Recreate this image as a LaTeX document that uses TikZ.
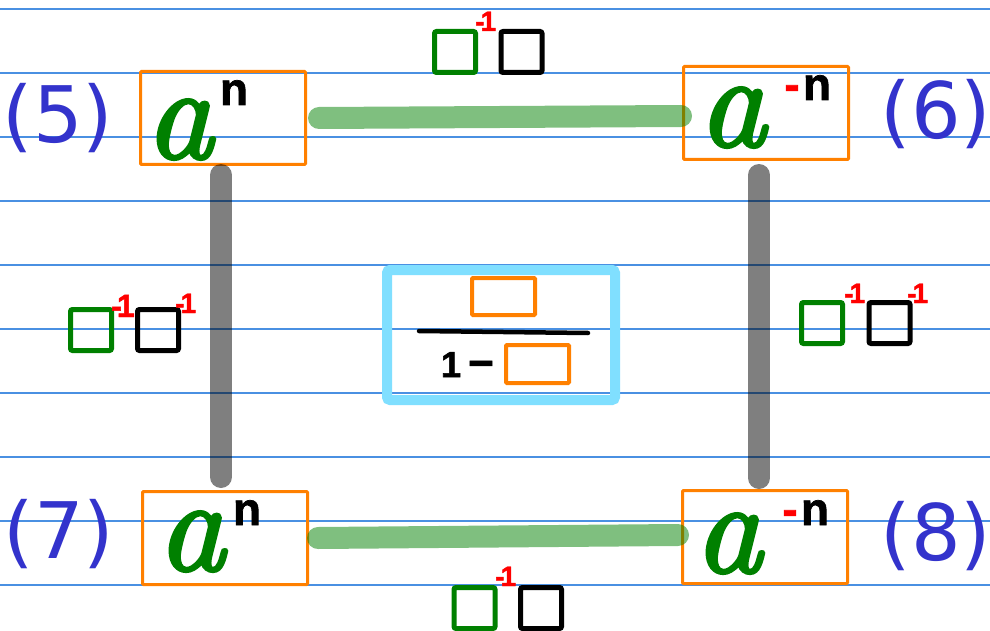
\documentclass[tikz,border=0pt]{standalone}
\usepackage{fontspec}
\newfontfamily\labfont{DejaVu Sans}
\newfontfamily\handfont{Liberation Sans Bold}[FakeBold=1.5]
\newfontfamily\afont{lmroman10-italic}[Extension=.otf, FakeBold=2.5]
\usetikzlibrary{calc}
\definecolor{orng}{HTML}{FF8000}
\definecolor{grn}{HTML}{008000}
\definecolor{lblc}{HTML}{3333CC}
\definecolor{cyanc}{HTML}{80DFFF}
\definecolor{redc}{HTML}{FF0000}
\definecolor{rulec}{HTML}{4A90E2}
\tikzset{
  rulel/.style={draw=rulec, line width=1.3pt},
  obox/.style={draw=orng, line width=3pt, minimum width=165pt, minimum height=93pt, inner sep=0pt, rounded corners=1pt},
  sqg/.style={draw=grn, line width=5pt, minimum size=41pt, inner sep=0pt, rounded corners=2pt},
  sqk/.style={draw=black, line width=5pt, minimum size=41pt, inner sep=0pt, rounded corners=2pt},
  gbar/.style={draw=grn, opacity=0.5, line width=22pt, line cap=round},
  kbar/.style={draw=black, opacity=0.5, line width=22pt, line cap=round},
  alet/.style={font=\afont\fontsize{132}{132}\selectfont, text=grn, inner sep=0pt, anchor=base},
  nlet/.style={font=\handfont\fontsize{46}{46}\selectfont, inner sep=0pt, anchor=base},
  inv/.style={font=\handfont\fontsize{28}{28}\selectfont, text=redc, inner sep=0pt, anchor=base west},
  lbl/.style={font=\labfont\fontsize{78}{78}\selectfont, text=lblc, inner sep=0pt, anchor=base},
}
\begin{document}
\begin{tikzpicture}[x=1pt,y=-1pt]
\useasboundingbox (0,0) rectangle (990,631);
\fill[white] (0,0) rectangle (990,631);
\foreach \yy in {9,73,137,201,265,329,393,457,521,585}
  \draw[rulel] (0,\yy) -- (990,\yy);

% corner boxes
\node[obox] (b5) at (223,118) {};
\node[obox] (b6) at (766,113) {};
\node[obox] (b7) at (225,538) {};
\node[obox] (b8) at (765,537) {};

% texts in boxes
\node[alet] (a5) at (179,158) {a};
\node[nlet] (n5) at (234,105) {n};
\node[alet] (a6) at (732,146) {a};
\node[nlet, text=redc] (m6) at (792,100) {-};
\node[nlet] (n6) at (817,100) {n};
\node[alet] (a7) at (191,570) {a};
\node[nlet] (n7) at (247,525) {n};
\node[alet] (a8) at (728,572) {a};
\node[nlet, text=redc] (m8) at (790,525) {-};
\node[nlet] (n8) at (815,525) {n};

% labels
\node[lbl] (l5) at (58,143) {(5)};
\node[lbl] (l6) at (936,139) {(6)};
\node[lbl] (l7) at (59,558) {(7)};
\node[lbl] (l8) at (936,560) {(8)};

% connectors
\draw[gbar] ($(b5.east)+(12,0)$) -- ($(b6.west)+(-1,3)$);
\draw[gbar] ($(b7.east)+(9,0)$) -- ($(b8.west)+(-3,-2)$);
\draw[kbar] ($(b5.south)+(-2,9)$) -- ($(b7.north)+(-4,-13)$);
\draw[kbar] ($(b6.south)+(-7,14)$) -- ($(b8.north)+(-6,-11)$);

% square pairs
\node[sqg] (tg) at (455,52) {};
\node[sqk] (tk) at (521.5,52) {};
\node[inv] (ti) at (475,31) {-\kern-4pt 1};

\node[sqg] (lg) at (91,330) {};
\node[sqk] (lk) at (158,330) {};
\node[inv, font=\handfont\fontsize{32}{32}\selectfont] (li1) at (111,317) {-\kern-5pt 1};
\node[inv] (li2) at (175,313) {-\kern-4pt 1};

\node[sqg] (rg) at (822,323) {};
\node[sqk] (rk) at (889.5,323) {};
\node[inv] (ri1) at (844,303) {-\kern-4pt 1};
\node[inv] (ri2) at (907,303) {-\kern-4pt 1};

\node[sqg] (bg) at (474.5,608) {};
\node[sqk] (bk) at (541,608) {};
\node[inv] (bi) at (495,586) {-\kern-4pt 1};

% centre formula
\node[draw=cyanc, line width=10pt, minimum width=228pt, minimum height=130pt, inner sep=0pt, rounded corners=3pt] (cb) at (501,335) {};
\node[draw=orng, line width=4pt, minimum width=63pt, minimum height=37pt, inner sep=0pt, rounded corners=1pt] (num) at (503.5,296.5) {};
\node[draw=orng, line width=4pt, minimum width=63pt, minimum height=38pt, inner sep=0pt, rounded corners=1pt] (den) at (537.5,364) {};
\coordinate (fl) at (419,331);
\coordinate (fr) at (588,333);
\draw[line width=4.5pt, line cap=round] (fl) -- (fr);
\node[nlet, font=\handfont\fontsize{36}{36}\selectfont] (one) at (451,377) {1};
\node[nlet, font=\handfont\fontsize{44}{44}\selectfont] (minus) at (481,378) {−};
\end{tikzpicture}
\end{document}
